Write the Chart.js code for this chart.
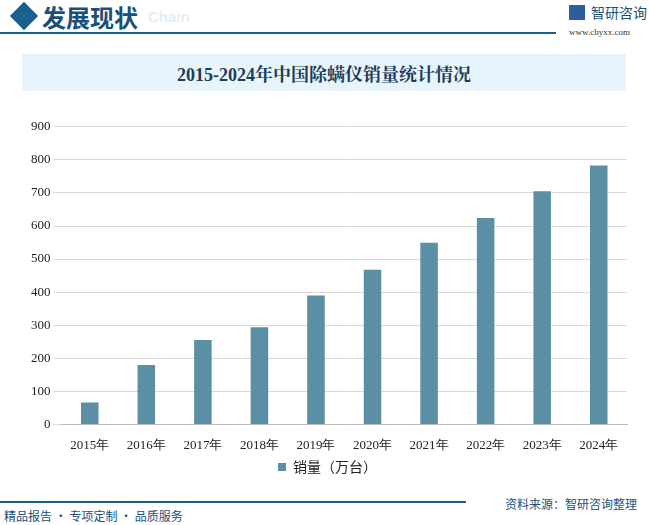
<!DOCTYPE html><html><head><meta charset="utf-8">
<script src="https://cdn.jsdelivr.net/npm/chart.js@4"></script>
<style>
body{margin:0;width:649px;height:525px;background:#fff;position:relative;overflow:hidden;font-family:"Noto Sans CJK SC",sans-serif}
.a{position:absolute;white-space:nowrap}
</style></head><body>
<div class="a" style="width:20px;height:20px;background:#1a5f8e;transform:rotate(45deg);left:14px;top:6px"></div>
<div class="a" style="left:42px;top:-1px;font-size:24px;color:#1a4f7a;font-weight:bold">发展现状</div>
<div class="a" style="left:148px;top:8px;font-size:15px;color:#e3eef7;font-weight:bold;font-family:'Liberation Sans'">Chain</div>
<div class="a" style="left:0;top:32px;width:556px;height:2px;background:#1a5f8e"></div>
<div class="a" style="left:569px;top:5px;width:16px;height:15px;background:#2a5e9e;"></div>
<div class="a" style="left:591px;top:2px;font-size:14px;color:#1a4f7a">智研咨询</div>
<div class="a" style="left:569px;top:27px;font-size:9px;color:#333;font-family:'Liberation Serif'">www.chyxx.com</div>
<div class="a" style="left:22px;top:54px;width:604px;height:37px;background:#e8f4fc"></div>
<div class="a" style="left:22px;top:60px;width:604px;text-align:center;font-size:18px;font-weight:bold;color:#1a3c5a;font-family:'Liberation Serif','Noto Serif CJK SC'">2015-2024年中国除螨仪销量统计情况</div>
<div class="a" style="left:0;top:501px;width:466px;height:2px;background:#1a5f8e"></div>
<div class="a" style="left:505px;top:495px;font-size:12px;color:#1a4f7a">资料来源：智研咨询整理</div>
<div class="a" style="left:4px;top:507px;font-size:12px;color:#1a4f7a">精品报告 · 专项定制 · 品质服务</div>
<div class="a" style="left:0;top:116px;width:649px;height:368px"><canvas id="c"></canvas></div>
<script>
const categories=["2015年","2016年","2017年","2018年","2019年","2020年","2021年","2022年","2023年","2024年"];
const sales=[66,180,255,294,390,468,549,624,705,783];
new Chart(document.getElementById('c'),{type:'bar',data:{labels:categories,datasets:[{label:'销量（万台）',data:sales,backgroundColor:'#5b8fa6',barPercentage:0.31,categoryPercentage:1}]},
options:{responsive:true,maintainAspectRatio:false,animation:false,layout:{padding:{left:28,right:22,top:5}},
plugins:{legend:{position:'bottom',labels:{boxWidth:8,boxHeight:8,padding:2,color:'#222',font:{size:14,family:'Noto Sans CJK SC'}}},tooltip:{enabled:false}},
scales:{x:{grid:{display:false},border:{color:'#bbb'},ticks:{padding:5,color:'#222',font:{size:13,family:'Liberation Serif'}}},
y:{min:0,max:900,ticks:{stepSize:100,color:'#222',font:{size:13,family:'Liberation Serif'}},grid:{color:'#d9d9d9'},border:{display:false}}}}});
</script></body></html>
